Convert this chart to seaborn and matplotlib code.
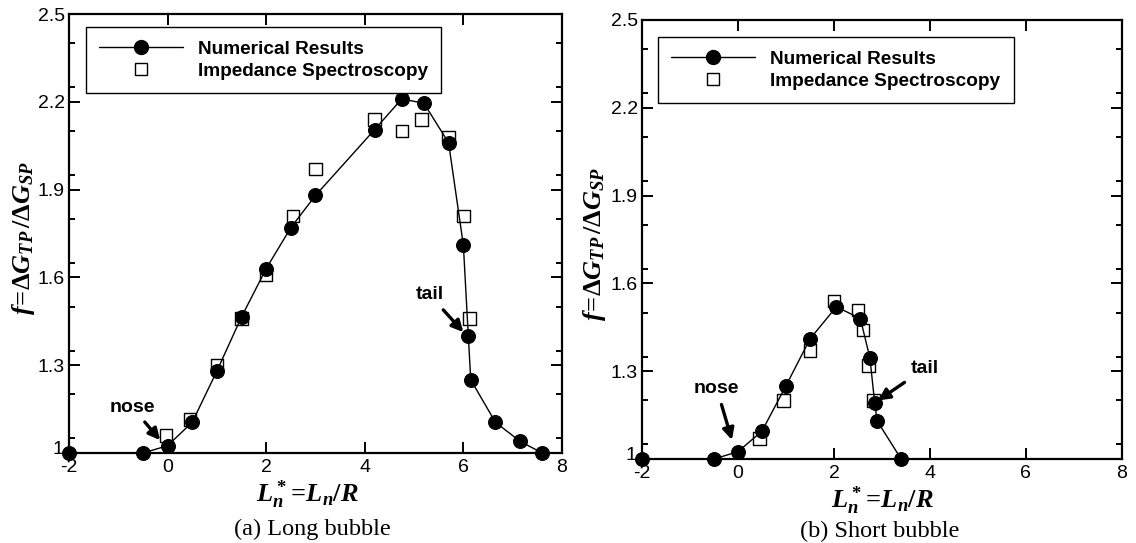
import matplotlib
matplotlib.use("Agg")
import matplotlib.pyplot as plt
import matplotlib.transforms as mtransforms
import seaborn as sns
import pandas as pd
from matplotlib.lines import Line2D
from matplotlib.ticker import MultipleLocator, FuncFormatter

# (a) Long bubble: numerical results
long_num_x = [-2.0, -0.5, 0.0, 0.5, 1.0, 1.5, 2.0, 2.5, 3.0, 4.2, 4.75, 5.2,
              5.7, 6.0, 6.1, 6.15, 6.65, 7.15, 7.6]
long_num_f = [1.0, 1.0, 1.025, 1.105, 1.28, 1.465, 1.63, 1.77, 1.88, 2.105, 2.21,
              2.195, 2.06, 1.71, 1.40, 1.25, 1.105, 1.04, 1.0]
# (a) Long bubble: impedance spectroscopy
long_exp_x = [-0.03, 0.45, 1.0, 1.5, 2.0, 2.55, 3.0, 4.2, 4.75, 5.15, 5.7, 6.0, 6.12]
long_exp_f = [1.06, 1.115, 1.30, 1.46, 1.61, 1.81, 1.97, 2.14, 2.10, 2.14, 2.08,
              1.81, 1.46]

# (b) Short bubble: numerical results
short_num_x = [-2.0, -0.5, 0.0, 0.5, 1.0, 1.5, 2.05, 2.55, 2.75, 2.85, 2.9, 3.4]
short_num_f = [1.0, 1.0, 1.025, 1.095, 1.25, 1.41, 1.52, 1.48, 1.345, 1.19, 1.13, 1.0]
# (b) Short bubble: impedance spectroscopy
short_exp_x = [0.45, 0.95, 1.5, 2.0, 2.5, 2.6, 2.72, 2.82]
short_exp_f = [1.07, 1.20, 1.37, 1.54, 1.51, 1.44, 1.32, 1.20]

x_ticks = [-2, 0, 2, 4, 6, 8]
y_ticks = [1.0, 1.3, 1.6, 1.9, 2.2, 2.5]

num_label = "Numerical Results"
exp_label = "Impedance Spectroscopy"
captions = ["(a) Long bubble", "(b) Short bubble"]

sns.set_theme(style="ticks")
plt.rcParams.update({
    "axes.unicode_minus": False,
    "mathtext.fontset": "custom",
    "mathtext.it": "Liberation Serif:italic:bold",
    "mathtext.rm": "Liberation Serif:bold",
    "mathtext.bf": "Liberation Serif:bold",
    "axes.linewidth": 1.6,
    "axes.edgecolor": "black",
})
plt.rcParams["font.family"] = ["Liberation Sans", "DejaVu Sans"]

fig = plt.figure(figsize=(11.36, 5.43), dpi=100)
ax_a = fig.add_axes([0.0607, 0.1657, 0.434, 0.8085])
ax_b = fig.add_axes([0.5651, 0.1547, 0.4225, 0.8085])

panels = [
    (ax_a, long_num_x, long_num_f, long_exp_x, long_exp_f),
    (ax_b, short_num_x, short_num_f, short_exp_x, short_exp_f),
]

for ax, nx, nf, ex, ef in panels:
    df_num = pd.DataFrame({"x": nx, "f": nf})
    df_exp = pd.DataFrame({"x": ex, "f": ef})
    sns.scatterplot(data=df_exp, x="x", y="f", ax=ax, marker="s", s=80,
                    linewidth=1.0, zorder=2, legend=False)
    coll = ax.collections[-1]
    coll.set_facecolor("none")
    coll.set_edgecolor("black")
    sns.lineplot(data=df_num, x="x", y="f", ax=ax, color="black", lw=1.0,
                 marker="o", markersize=10, markeredgecolor="black",
                 markerfacecolor="black", zorder=3, legend=False)

    ax.set_xlim(-2, 8)
    ax.set_ylim(1.0, 2.5)
    ax.set_xticks(x_ticks)
    ax.set_yticks(y_ticks)
    ax.yaxis.set_minor_locator(MultipleLocator(0.15))
    ax.xaxis.set_major_formatter(FuncFormatter(lambda v, _: f"{v:g}"))
    ax.yaxis.set_major_formatter(FuncFormatter(lambda v, _: f"{v:g}"))
    ax.tick_params(which="both", direction="in", top=True, right=True,
                   colors="black", labelsize=14, width=1.4)
    ax.tick_params(which="major", length=8)
    ax.tick_params(axis="y", which="major", pad=3)
    ax.tick_params(axis="x", which="major", pad=4.5)
    ax.tick_params(which="minor", length=4)
    ax.tick_params(axis="x", which="minor", bottom=False, top=False)
    for lab in ax.get_xticklabels() + ax.get_yticklabels():
        lab.set_color("black")
    for sp in ax.spines.values():
        sp.set_visible(True)
        sp.set_color("black")
    ax.set_facecolor("white")
    ax.grid(False)
    for art in ax.lines + ax.collections:
        art.set_clip_on(False)

    ax.set_xlabel(r"$L_n^*\!=\!L_n/R$", fontsize=19, color="black")
    ax.set_ylabel(r"$f\!=\!\Delta G_{TP}\,/\Delta G_{SP}$", fontsize=19,
                  color="black")
    ax.xaxis.label.set_va("center")
    ax.yaxis.label.set_va("center")

    handles = [
        Line2D([], [], color="black", lw=1.0, marker="o", markersize=10,
               markerfacecolor="black", markeredgecolor="black"),
        Line2D([], [], color="none", marker="s", markersize=9,
               markerfacecolor="none", markeredgecolor="black",
               markeredgewidth=1.0),
    ]
    leg = ax.legend(handles, [num_label, exp_label], loc="upper left",
                    frameon=True, fancybox=False, shadow=False,
                    handlelength=4.4, handletextpad=0.8, borderpad=0.7,
                    labelspacing=0.25, borderaxespad=0,
                    prop={"family": "Liberation Sans", "weight": "bold",
                          "size": 13.7})
    leg.get_frame().set_edgecolor("black")
    leg.get_frame().set_linewidth(1.0)
    leg.get_frame().set_facecolor("white")
    leg.get_frame().set_alpha(1)
    for t in leg.get_texts():
        t.set_color("black")

ax_a.xaxis.set_label_coords(0.483, -0.094)
ax_a.yaxis.set_label_coords(-0.092, 0.49)
ax_b.xaxis.set_label_coords(0.5, -0.094)
ax_b.yaxis.set_label_coords(-0.098, 0.49)

ax_a.get_legend().set_bbox_to_anchor((0.034, 0.97))
ax_b.get_legend().set_bbox_to_anchor((0.033, 0.961))

ann_kw = dict(fontsize=14, fontweight="bold", color="black",
              ha="center", va="center",
              arrowprops=dict(arrowstyle="-|>", color="black", lw=2.4,
                              mutation_scale=17, shrinkA=3, shrinkB=0))
ax_a.annotate("nose", xy=(-0.15, 1.044), xytext=(-0.72, 1.157), **ann_kw)
ax_a.annotate("tail", xy=(6.0, 1.413), xytext=(5.32, 1.54), **ann_kw)
ax_b.annotate("nose", xy=(-0.125, 1.065), xytext=(-0.44, 1.24), **ann_kw)
ax_b.annotate("tail", xy=(2.92, 1.20), xytext=(3.9, 1.31), **ann_kw)

cap_kw = dict(fontsize=17.5, family="Liberation Serif", color="black",
              ha="center", va="center")
fig.text(312 / 1136, 1 - 529 / 543, captions[0], **cap_kw)
fig.text(880 / 1136, 1 - 531 / 543, captions[1], **cap_kw)

# lift the lowest y tick label a little so it clears the "-2" below it
fig.canvas.draw()
lift = mtransforms.ScaledTranslation(-1 / 72, 4 / 72, fig.dpi_scale_trans)
for ax in (ax_a, ax_b):
    lab = ax.yaxis.get_major_ticks()[0].label1
    lab.set_transform(lab.get_transform() + lift)

fig.patch.set_facecolor("white")
fig.savefig("out.png", dpi=100, facecolor="white")
